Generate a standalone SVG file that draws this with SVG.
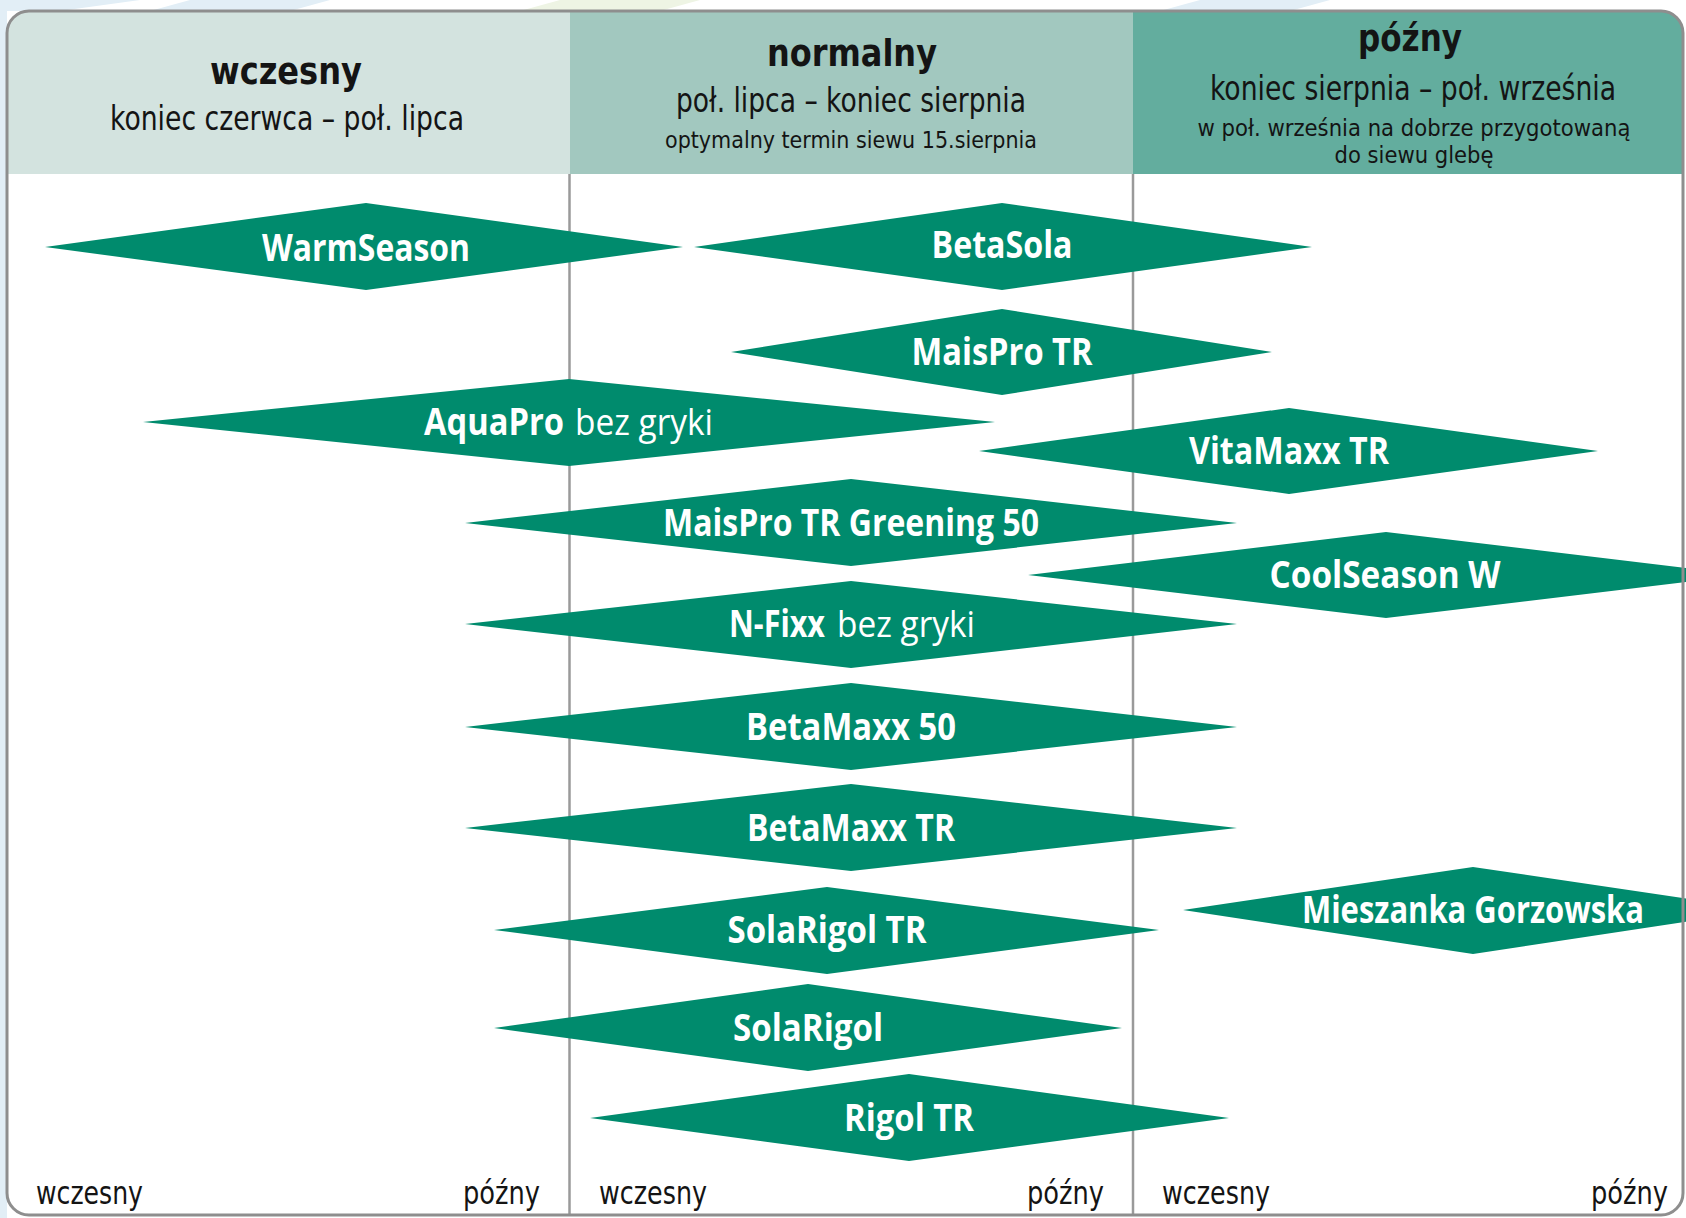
<svg xmlns="http://www.w3.org/2000/svg" width="1686" height="1218" viewBox="0 0 1686 1218">
<defs>
<style>
.bg{fill:#ffffff}
.deco{fill:#e2eef6}
.decog{fill:#eef4e4}
.h1{fill:#d3e3df}
.h2{fill:#a2c8bf}
.h3{fill:#63ad9e}
.frame{fill:none;stroke:#8e8e8e;stroke-width:3}
.div{stroke:#9a9a9a;stroke-width:2.5}
.dia{fill:#008b6d}
.lab{font-family:"Open Sans","Noto Sans",sans-serif;font-weight:700;font-size:37px;fill:#ffffff;text-anchor:middle}
.labs{font-family:"Open Sans","Noto Sans",sans-serif;font-size:37px;fill:#ffffff}
.b{font-weight:700}
.r{font-weight:400}
.title{font-family:"DejaVu Sans Condensed","Open Sans",sans-serif;font-weight:700;font-size:38px;fill:#141414;text-anchor:middle}
.sub{font-family:"DejaVu Sans Condensed","Open Sans",sans-serif;font-size:33px;fill:#141414;text-anchor:middle}
.small{font-family:"DejaVu Sans Condensed","Open Sans",sans-serif;font-size:23px;fill:#141414;text-anchor:middle}
.axis{font-family:"DejaVu Sans Condensed","Open Sans",sans-serif;font-size:32px;fill:#141414}
</style>
<clipPath id="fr"><rect x="7" y="11" width="1676" height="1204" rx="22"/></clipPath>
</defs>

<g id="background">
<rect x="0" y="0" width="1686" height="1218" fill="#ffffff"/>
<rect class="deco" x="0" y="0" width="7" height="1218"/>
<polygon class="deco" points="0,0 140,0 60,11 0,11"/>
<polygon class="deco" points="190,0 330,0 290,11 150,11"/>
<polygon class="decog" points="560,0 700,0 660,11 520,11"/>
<polygon class="deco" points="1200,0 1330,0 1290,11 1160,11"/>
</g>

<g id="frame">
<rect class="bg" x="7" y="11" width="1676" height="1204" rx="22"/>
<g clip-path="url(#fr)">
<rect class="h1" x="7" y="11" width="563" height="163"/>
<rect class="h2" x="570" y="11" width="563" height="163"/>
<rect class="h3" x="1133" y="11" width="560" height="163"/>
</g>
</g>

<g id="grid">
<line class="div" x1="569.5" y1="174" x2="569.5" y2="1216"/>
<line class="div" x1="1133" y1="174" x2="1133" y2="1216"/>
</g>

<g id="header-wczesny">
<text class="title" x="286" y="84" textLength="152" lengthAdjust="spacingAndGlyphs">wczesny</text>
<text class="sub" x="287" y="130" textLength="354" lengthAdjust="spacingAndGlyphs">koniec czerwca – poł. lipca</text>
</g>
<g id="header-normalny">
<text class="title" x="852" y="66" textLength="170" lengthAdjust="spacingAndGlyphs">normalny</text>
<text class="sub" x="851" y="112" textLength="350" lengthAdjust="spacingAndGlyphs">poł. lipca – koniec sierpnia</text>
<text class="small" x="851" y="148" textLength="372" lengthAdjust="spacingAndGlyphs">optymalny termin siewu 15.sierpnia</text>
</g>
<g id="header-pozny">
<text class="title" x="1410" y="51" textLength="104" lengthAdjust="spacingAndGlyphs">późny</text>
<text class="sub" x="1413" y="100" textLength="406" lengthAdjust="spacingAndGlyphs">koniec sierpnia – poł. września</text>
<text class="small" x="1414" y="136" textLength="433" lengthAdjust="spacingAndGlyphs">w poł. września na dobrze przygotowaną</text>
<text class="small" x="1414" y="163" textLength="159" lengthAdjust="spacingAndGlyphs">do siewu glebę</text>
</g>

<g id="connectors"></g>

<g id="n-warmseason">
<polygon class="dia" points="45,247 366,203 683,247 366,290"/>
<text class="lab" x="366" y="261" textLength="208" lengthAdjust="spacingAndGlyphs">WarmSeason</text>
</g>
<g id="n-betasola">
<polygon class="dia" points="694,247 1002,203 1312,247 1002,290"/>
<text class="lab" x="1002" y="258" textLength="141" lengthAdjust="spacingAndGlyphs">BetaSola</text>
</g>
<g id="n-maispro-tr">
<polygon class="dia" points="731,352 1002,309 1272,352 1002,395"/>
<text class="lab" x="1002" y="365" textLength="181" lengthAdjust="spacingAndGlyphs">MaisPro TR</text>
</g>
<g id="n-aquapro">
<polygon class="dia" points="143,422 569,379 995,422 569,466"/>
<text class="labs b" x="424" y="435" textLength="140" lengthAdjust="spacingAndGlyphs">AquaPro</text>
<text class="labs r" x="575" y="435" textLength="138" lengthAdjust="spacingAndGlyphs">bez gryki</text>
</g>
<g id="n-vitamaxx-tr">
<polygon class="dia" points="979,451 1289,408 1598,451 1289,494"/>
<text class="lab" x="1289" y="464" textLength="200" lengthAdjust="spacingAndGlyphs">VitaMaxx TR</text>
</g>
<g id="n-maispro-greening">
<polygon class="dia" points="465,523 851,479 1237,523 851,566"/>
<text class="lab" x="851" y="536" textLength="376" lengthAdjust="spacingAndGlyphs">MaisPro TR Greening 50</text>
</g>
<g id="n-coolseason">
<polygon class="dia" points="1028,575 1386,532 1744,575 1386,618"/>
<text class="lab" x="1385" y="588" textLength="231" lengthAdjust="spacingAndGlyphs">CoolSeason W</text>
</g>
<g id="n-nfixx">
<polygon class="dia" points="465,624 851,581 1237,624 851,668"/>
<text class="labs b" x="729" y="637" textLength="96" lengthAdjust="spacingAndGlyphs">N-Fixx</text>
<text class="labs r" x="837" y="637" textLength="138" lengthAdjust="spacingAndGlyphs">bez gryki</text>
</g>
<g id="n-betamaxx-50">
<polygon class="dia" points="465,727 851,683 1237,727 851,770"/>
<text class="lab" x="851" y="740" textLength="210" lengthAdjust="spacingAndGlyphs">BetaMaxx 50</text>
</g>
<g id="n-betamaxx-tr">
<polygon class="dia" points="465,828 851,784 1237,828 851,871"/>
<text class="lab" x="851" y="841" textLength="208" lengthAdjust="spacingAndGlyphs">BetaMaxx TR</text>
</g>
<g id="n-mieszanka">
<polygon class="dia" points="1183,910 1473,867 1763,910 1473,954"/>
<text class="lab" x="1473" y="923" textLength="342" lengthAdjust="spacingAndGlyphs">Mieszanka Gorzowska</text>
</g>
<g id="n-solarigol-tr">
<polygon class="dia" points="494,930 827,887 1159,930 827,974"/>
<text class="lab" x="827" y="943" textLength="199" lengthAdjust="spacingAndGlyphs">SolaRigol TR</text>
</g>
<g id="n-solarigol">
<polygon class="dia" points="494,1028 808,984 1122,1028 808,1071"/>
<text class="lab" x="808" y="1041" textLength="150" lengthAdjust="spacingAndGlyphs">SolaRigol</text>
</g>
<g id="n-rigol-tr">
<polygon class="dia" points="590,1118 909,1074 1229,1118 909,1161"/>
<text class="lab" x="909" y="1131" textLength="130" lengthAdjust="spacingAndGlyphs">Rigol TR</text>
</g>

<g id="axis-labels">
<text class="axis" x="36" y="1204" textLength="107" lengthAdjust="spacingAndGlyphs">wczesny</text>
<text class="axis" x="463" y="1204" textLength="77" lengthAdjust="spacingAndGlyphs">późny</text>
<text class="axis" x="599" y="1204" textLength="108" lengthAdjust="spacingAndGlyphs">wczesny</text>
<text class="axis" x="1027" y="1204" textLength="77" lengthAdjust="spacingAndGlyphs">późny</text>
<text class="axis" x="1162" y="1204" textLength="108" lengthAdjust="spacingAndGlyphs">wczesny</text>
<text class="axis" x="1591" y="1204" textLength="77" lengthAdjust="spacingAndGlyphs">późny</text>
</g>

<g id="frame-border">
<rect class="frame" x="7" y="11" width="1676" height="1204" rx="22"/>
</g>
</svg>
